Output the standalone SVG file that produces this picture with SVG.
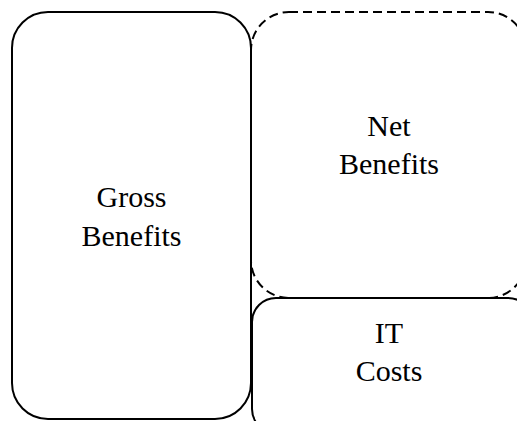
<svg xmlns="http://www.w3.org/2000/svg" width="517" height="421" viewBox="0 0 517 421">
<style>
.box{fill:none;stroke:#000;stroke-width:2}
.dash{stroke-dasharray:9 5}
.lbl{font-family:"Liberation Serif","Times New Roman",serif;font-size:30px;fill:#000;text-anchor:middle}
</style>
<rect x="0" y="0" width="517" height="421" fill="#fff"/>
<g id="connectors"></g>
<g id="gross">
<rect class="box" x="12" y="12" width="239" height="407" rx="36" ry="36"/>
<text class="lbl" x="131.5" y="207">Gross</text>
<text class="lbl" x="131.5" y="246">Benefits</text>
</g>
<g id="net">
<rect class="box dash" x="251" y="12" width="275" height="286" rx="38" ry="38"/>
<text class="lbl" x="389" y="136">Net</text>
<text class="lbl" x="389" y="174">Benefits</text>
</g>
<g id="it">
<rect class="box" x="252" y="298" width="280" height="135" rx="24" ry="24"/>
<text class="lbl" x="389" y="343">IT</text>
<text class="lbl" x="389" y="381">Costs</text>
</g>
</svg>
